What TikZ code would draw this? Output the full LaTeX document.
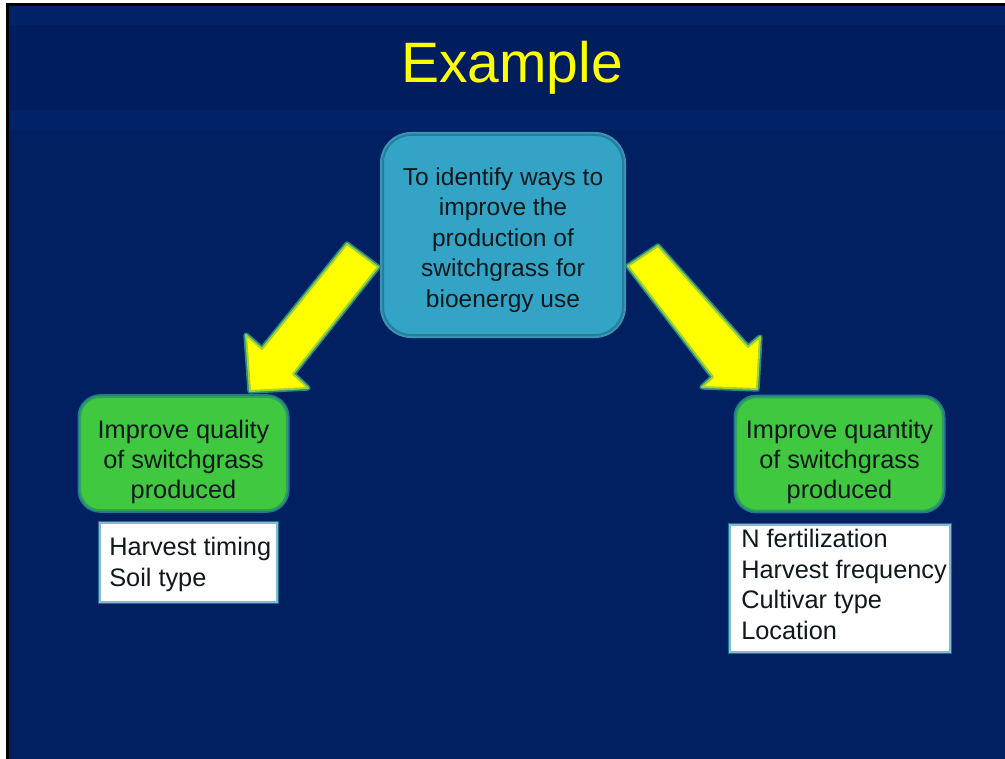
\documentclass[tikz,border=0pt]{standalone}
\usepackage{fontspec}
\setmainfont{Liberation Sans}
\usetikzlibrary{positioning}
\definecolor{slidebg}{RGB}{0,32,98}
\definecolor{bandlt}{RGB}{0,34,103}
\definecolor{banddk}{RGB}{0,30,93}
\definecolor{goalfill}{RGB}{52,164,198}
\definecolor{goaledge}{RGB}{36,126,158}
\definecolor{goalglow}{RGB}{58,150,178}
\definecolor{subfill}{RGB}{64,200,64}
\definecolor{subedge}{RGB}{44,158,96}
\definecolor{subglow}{RGB}{36,120,140}
\definecolor{listedge}{RGB}{130,188,210}
\definecolor{listglow}{RGB}{30,110,140}
\definecolor{arrfill}{RGB}{255,255,0}
\definecolor{arredge}{RGB}{160,210,50}
\definecolor{arrglow}{RGB}{40,140,130}
\definecolor{inktext}{RGB}{16,24,28}

\begin{document}
\begin{tikzpicture}[
  x=0.75pt, y=-0.75pt,
  title/.style={text=arrfill, font=\fontsize{42.75}{50}\selectfont, inner sep=0pt},
  goal/.style={draw=goaledge, line width=1.5pt, fill=goalfill, rounded corners=21pt,
    minimum width=180pt, minimum height=150pt, preaction={draw=goalglow, line width=4.5pt}},
  goaltext/.style={align=center, inner sep=0pt, text=inktext, font=\fontsize{18.4}{22.8}\selectfont},
  sub/.style={draw=subedge, line width=1.5pt, fill=subfill, rounded corners=15pt,
    minimum width=155pt, minimum height=85pt, preaction={draw=subglow, line width=4pt}},
  subtext/.style={align=center, inner sep=0pt, text=inktext, font=\fontsize{19}{22.5}\selectfont},
  listbox/.style={draw=listedge, line width=1.5pt, fill=white, inner sep=0pt,
    preaction={draw=listglow, line width=3.5pt}},
  listtext/.style={anchor=west, align=left, inner sep=0pt, text=inktext,
    font=\fontsize{19}{23}\selectfont},
  yarrow/.style={fill=arrfill, draw=arredge, line width=1.5pt, line join=round,
    preaction={draw=arrglow, line width=4pt, line join=round}}
]
\useasboundingbox (0,0) rectangle (1005,759);
% slide
\fill[white] (0,0) rectangle (1005,759);
\fill[black] (6,3.5) rectangle (1005,759);
\fill[slidebg] (9,6) rectangle (1005,759);
\fill[bandlt] (9,6) rectangle (1005,25);
\fill[banddk] (9,25) rectangle (1005,110);
\fill[bandlt] (9,110) rectangle (1005,130);
\node[title] (title) at (512,68) {Example};
% objective
\node[goal] (goal) at (503,235) {};
\node[goaltext] (goaltxt) at ([yshift=-3.75pt]goal.center) {To identify ways to\\ improve the\\ production of\\ switchgrass for\\ bioenergy use};
% block arrows
\draw[yarrow] (347,244) -- (378,267) -- (293,374) -- (308,388) -- (250,391) -- (246,335) -- (262,349) -- cycle;
\draw[yarrow] (628,266) -- (658,246) -- (748,347) -- (760,337) -- (757,389) -- (702,387) -- (713,377) -- cycle;
% sub-goals
\node[sub] (quality) at (183.5,453.5) {};
\node[subtext] (qualtxt) at ([yshift=-6pt]quality.center) {Improve quality\\ of switchgrass\\ produced};
\node[sub] (quantity) at (839.5,454) {};
\node[subtext] (qtytxt) at ([yshift=-6pt]quantity.center) {Improve quantity\\ of switchgrass\\ produced};
% factor lists
\node[listbox, minimum width=132.75pt, minimum height=59.25pt] (qualbox) at (188.5,562.5) {};
\node[listtext] (quallist) at ([xshift=7.5pt, yshift=-1.5pt]qualbox.west) {Harvest timing\\ Soil type};
\node[listbox, minimum width=165pt, minimum height=95.25pt] (qtybox) at (840,588.5) {};
\node[listtext] (qtylist) at ([xshift=9pt, yshift=3pt]qtybox.west) {N fertilization\\ Harvest frequency\\ Cultivar type\\ Location};
\end{tikzpicture}
\end{document}
